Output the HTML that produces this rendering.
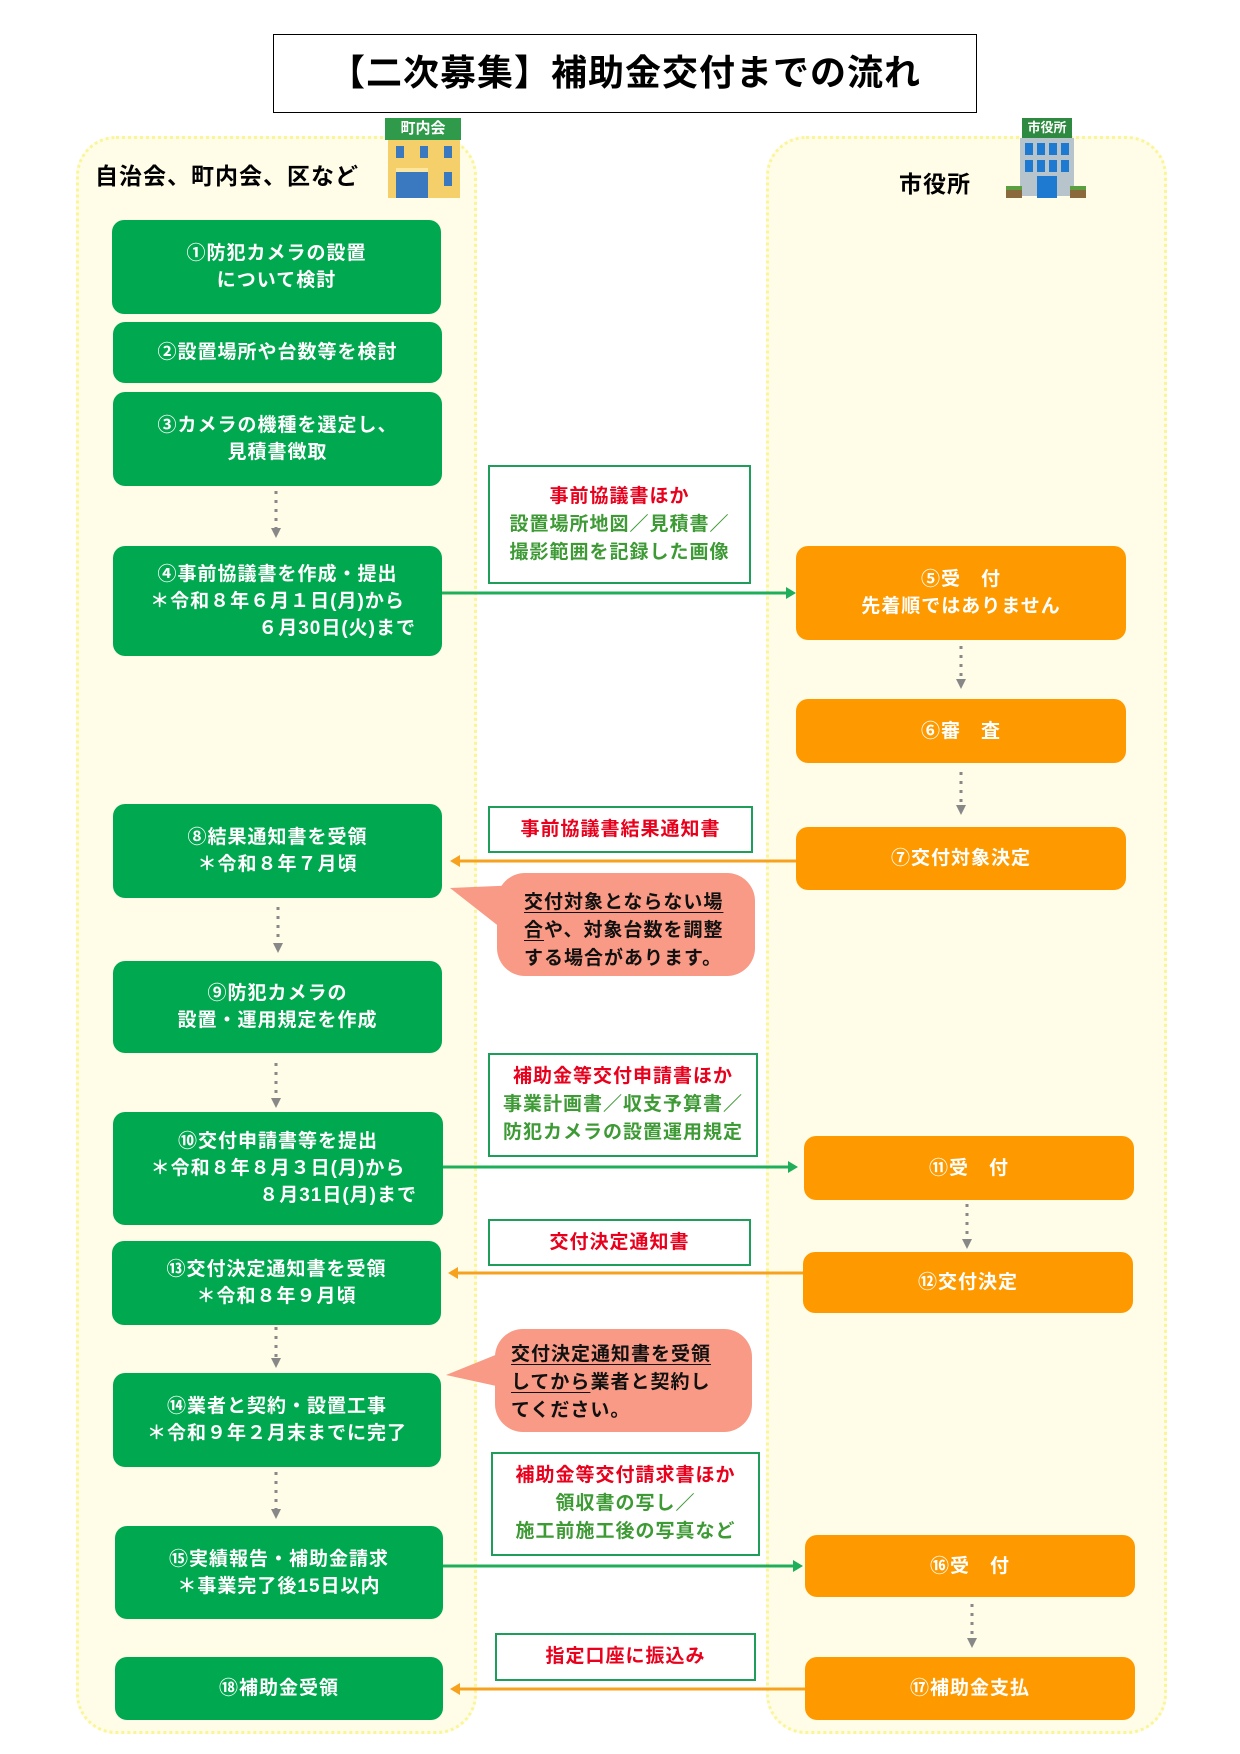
<!DOCTYPE html>
<html><head><meta charset="utf-8">
<style>
*{margin:0;padding:0;box-sizing:border-box}
body{width:1240px;height:1754px;background:#fff;position:relative;overflow:hidden;font-family:"Liberation Sans","Noto Sans CJK JP",sans-serif;font-weight:bold}
.a{position:absolute}
.lane{position:absolute;background:#fffde8;border:3px dotted #fbf59a;border-radius:40px}
.g,.o{position:absolute;border-radius:12px;color:#fff;font-size:19px;line-height:27px;letter-spacing:1px;display:flex;flex-direction:column;justify-content:center;align-items:center;text-align:center}
.g{background:#00a84f}
.o{background:#fe9a00}
.lb{position:absolute;background:#fff;border:2px solid #1e9e5a;display:flex;flex-direction:column;justify-content:center;align-items:center;font-size:19px;line-height:28px;letter-spacing:1px}
.r{color:#e8001c}.gt{color:#3d9a35}
.cl{position:absolute;background:#f89a85;border-radius:28px;font-size:19px;line-height:28px;letter-spacing:1px;color:#111;padding:16px 0 0 0}
u{text-decoration:underline;text-underline-offset:4px}
</style></head><body>
<div class="a" style="left:273px;top:34px;width:704px;height:79px;border:1.5px solid #000;font-size:36px;line-height:76px;text-align:center;letter-spacing:1px">【二次募集】補助金交付までの流れ</div>

<div class="lane" style="left:76px;top:136px;width:401px;height:1598px"></div>
<div class="lane" style="left:766px;top:136px;width:401px;height:1598px"></div>

<div class="a" style="left:95px;top:157px;font-size:23px;letter-spacing:1px">自治会、町内会、区など</div>
<div class="a" style="left:899px;top:165px;font-size:23px;letter-spacing:1px">市役所</div>

<div class="a" style="left:388px;top:134px;width:72px;height:64px;background:#f5d06a"></div>
<div class="a" style="left:385px;top:118px;width:76px;height:22px;background:#2e9a4a;color:#fff;font-size:15px;text-align:center;line-height:22px">町内会</div>
<div class="a" style="left:396px;top:146px;width:8px;height:12px;background:#3a78c0"></div>
<div class="a" style="left:420px;top:146px;width:8px;height:12px;background:#3a78c0"></div>
<div class="a" style="left:444px;top:146px;width:8px;height:12px;background:#3a78c0"></div>
<div class="a" style="left:396px;top:168px;width:32px;height:30px;background:#3a78c0;border-top:4px solid #fbe6a0"></div>
<div class="a" style="left:444px;top:172px;width:8px;height:14px;background:#3a78c0"></div>
<div class="a" style="left:1022px;top:118px;width:50px;height:20px;background:#2e8a40;color:#fff;font-size:13px;text-align:center;line-height:20px">市役所</div>
<div class="a" style="left:1020px;top:138px;width:54px;height:58px;background:#b8c4cc"></div>
<div class="a" style="left:1025px;top:143px;width:44px;height:12px;background:repeating-linear-gradient(90deg,#1e7ad0 0 8px,transparent 8px 12px)"></div>
<div class="a" style="left:1025px;top:160px;width:44px;height:12px;background:repeating-linear-gradient(90deg,#1e7ad0 0 8px,transparent 8px 12px)"></div>
<div class="a" style="left:1037px;top:176px;width:20px;height:22px;background:#1e7ad0"></div>
<div class="a" style="left:1006px;top:186px;width:16px;height:12px;background:#8a6a3a;border-top:4px solid #5aa040"></div>
<div class="a" style="left:1070px;top:186px;width:16px;height:12px;background:#8a6a3a;border-top:4px solid #5aa040"></div>

<div class="g" style="left:112px;top:220px;width:329px;height:94px"><div>①防犯カメラの設置</div><div>について検討</div></div>
<div class="g" style="left:113px;top:322px;width:329px;height:61px">②設置場所や台数等を検討</div>
<div class="g" style="left:113px;top:392px;width:329px;height:94px"><div>③カメラの機種を選定し、</div><div>見積書徴取</div></div>
<div class="g" style="left:113px;top:546px;width:329px;height:110px"><div>④事前協議書を作成・提出</div><div>＊令和８年６月１日(月)から</div><div style="align-self:flex-end;margin-right:26px">６月30日(火)まで</div></div>
<div class="g" style="left:113px;top:804px;width:329px;height:94px"><div>⑧結果通知書を受領</div><div>＊令和８年７月頃</div></div>
<div class="g" style="left:113px;top:961px;width:329px;height:92px"><div>⑨防犯カメラの</div><div>設置・運用規定を作成</div></div>
<div class="g" style="left:113px;top:1112px;width:330px;height:113px"><div>⑩交付申請書等を提出</div><div>＊令和８年８月３日(月)から</div><div style="align-self:flex-end;margin-right:26px">８月31日(月)まで</div></div>
<div class="g" style="left:112px;top:1241px;width:329px;height:84px"><div>⑬交付決定通知書を受領</div><div>＊令和８年９月頃</div></div>
<div class="g" style="left:113px;top:1373px;width:328px;height:94px"><div>⑭業者と契約・設置工事</div><div>＊令和９年２月末までに完了</div></div>
<div class="g" style="left:115px;top:1526px;width:328px;height:93px"><div>⑮実績報告・補助金請求</div><div>＊事業完了後15日以内</div></div>
<div class="g" style="left:115px;top:1657px;width:328px;height:63px">⑱補助金受領</div>

<div class="o" style="left:796px;top:546px;width:330px;height:94px"><div>⑤受　付</div><div>先着順ではありません</div></div>
<div class="o" style="left:796px;top:699px;width:330px;height:64px">⑥審　査</div>
<div class="o" style="left:796px;top:827px;width:330px;height:63px">⑦交付対象決定</div>
<div class="o" style="left:804px;top:1136px;width:330px;height:64px">⑪受　付</div>
<div class="o" style="left:803px;top:1252px;width:330px;height:61px">⑫交付決定</div>
<div class="o" style="left:805px;top:1535px;width:330px;height:62px">⑯受　付</div>
<div class="o" style="left:805px;top:1657px;width:330px;height:63px">⑰補助金支払</div>

<div class="lb" style="left:488px;top:465px;width:263px;height:119px"><div class="r">事前協議書ほか</div><div class="gt">設置場所地図／見積書／</div><div class="gt">撮影範囲を記録した画像</div></div>
<div class="lb" style="left:488px;top:806px;width:265px;height:47px"><div class="r">事前協議書結果通知書</div></div>
<div class="lb" style="left:488px;top:1053px;width:270px;height:104px"><div class="r">補助金等交付申請書ほか</div><div class="gt">事業計画書／収支予算書／</div><div class="gt">防犯カメラの設置運用規定</div></div>
<div class="lb" style="left:488px;top:1219px;width:263px;height:47px"><div class="r">交付決定通知書</div></div>
<div class="lb" style="left:491px;top:1452px;width:269px;height:104px"><div class="r">補助金等交付請求書ほか</div><div class="gt">領収書の写し／</div><div class="gt">施工前施工後の写真など</div></div>
<div class="lb" style="left:495px;top:1633px;width:261px;height:48px"><div class="r">指定口座に振込み</div></div>

<svg class="a" style="left:0;top:0" width="1240" height="1754">
<g fill="#f89a85">
<polygon points="450,888 520,885 510,935"/>
<polygon points="446,1375 520,1345 515,1390"/>
</g>
<g stroke="#888" stroke-width="3" stroke-dasharray="3,6" fill="none">
<line x1="276" y1="491" x2="276" y2="528"/>
<line x1="278" y1="907" x2="278" y2="943"/>
<line x1="276" y1="1063" x2="276" y2="1098"/>
<line x1="276" y1="1327" x2="276" y2="1358"/>
<line x1="276" y1="1472" x2="276" y2="1509"/>
<line x1="961" y1="646" x2="961" y2="679"/>
<line x1="961" y1="772" x2="961" y2="805"/>
<line x1="967" y1="1204" x2="967" y2="1239"/>
<line x1="972" y1="1604" x2="972" y2="1638"/>
</g>
<g fill="#888">
<polygon points="271,528 281,528 276,538"/>
<polygon points="273,943 283,943 278,953"/>
<polygon points="271,1098 281,1098 276,1108"/>
<polygon points="271,1358 281,1358 276,1368"/>
<polygon points="271,1509 281,1509 276,1519"/>
<polygon points="956,679 966,679 961,689"/>
<polygon points="956,805 966,805 961,815"/>
<polygon points="962,1239 972,1239 967,1249"/>
<polygon points="967,1638 977,1638 972,1648"/>
</g>
<g stroke-width="3">
<line x1="442" y1="593" x2="788" y2="593" stroke="#1fae5a"/>
<line x1="443" y1="1167" x2="790" y2="1167" stroke="#1fae5a"/>
<line x1="443" y1="1566" x2="795" y2="1566" stroke="#1fae5a"/>
<line x1="796" y1="861" x2="458" y2="861" stroke="#f7a21e"/>
<line x1="803" y1="1273" x2="456" y2="1273" stroke="#f7a21e"/>
<line x1="805" y1="1689" x2="458" y2="1689" stroke="#f7a21e"/>
</g>
<polygon points="796,593 786,587 786,599" fill="#1fae5a"/>
<polygon points="798,1167 788,1161 788,1173" fill="#1fae5a"/>
<polygon points="803,1566 793,1560 793,1572" fill="#1fae5a"/>
<polygon points="450,861 460,855 460,867" fill="#f7a21e"/>
<polygon points="448,1273 458,1267 458,1279" fill="#f7a21e"/>
<polygon points="450,1689 460,1683 460,1695" fill="#f7a21e"/>
</svg>

<div class="cl" style="left:497px;top:873px;width:258px;height:103px;padding-left:27px"><div><u>交付対象とならない場</u></div><div><u>合</u>や、対象台数を調整</div><div>する場合があります。</div></div>
<div class="cl" style="left:495px;top:1329px;width:257px;height:103px;padding-left:16px;padding-top:12px"><div><u>交付決定通知書を受領</u></div><div><u>してから</u>業者と契約し</div><div>てください。</div></div>
</body></html>
